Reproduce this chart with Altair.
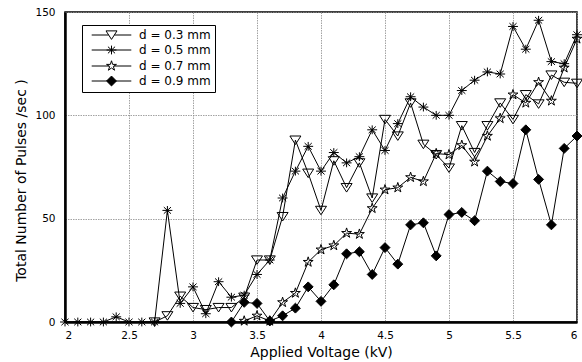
import altair as alt
import pandas as pd

# Applied voltage steps (kV)
voltage = [2.0, 2.1, 2.2, 2.3, 2.4, 2.5, 2.6, 2.7, 2.8, 2.9,
           3.0, 3.1, 3.2, 3.3, 3.4, 3.5, 3.6, 3.7, 3.8, 3.9,
           4.0, 4.1, 4.2, 4.3, 4.4, 4.5, 4.6, 4.7, 4.8, 4.9,
           5.0, 5.1, 5.2, 5.3, 5.4, 5.5, 5.6, 5.7, 5.8, 5.9, 6.0]

# Total pulses per second for each gap distance (None = not measured)
d03 = [None, None, None, None, None, None, None, 0, 3, 12.5,
       7, 6, 7, 7, 12, 30, 30, 51, 88, 72,
       54, 78, 65, 77, 60, 98, 90, 106, 86, 81,
       74.5, 95, 82, 95, 106, 98, 110, 105.5, 119.5, 116, 115.5]
d05 = [0, 0, 0, 0, 2.5, 0, 0, 0, 54, 9,
       17, 4, 19.5, 12, 13, 23, 30, 60, 73, 85,
       73, 82, 77, 80, 93, 83, 96, 109, 104, 100,
       100, 112, 117, 121, 120, 143, 132, 146, 126, 125, 139]
d07 = [None, None, None, None, None, None, None, None, None, None,
       None, None, None, None, 0.5, 3, 0.5, 9.5, 14, 29,
       35, 37, 43, 42.5, 55, 64, 65, 70, 68, 81.5,
       81, 85.5, 77.5, 90, 98.5, 110, 106, 116, 107, 123, 137]
d09 = [None, None, None, None, None, None, None, None, None, None,
       None, None, None, 0, 9.5, 9, 0.5, 3, 6.7, 17,
       10, 18, 33, 34, 23, 36, 28, 47, 48, 32,
       52, 53, 49, 73, 68, 67, 93, 69, 47, 84, 90]

series_names = ["d = 0.3 mm", "d = 0.5 mm", "d = 0.7 mm", "d = 0.9 mm"]
x_ticks = [2, 2.5, 3, 3.5, 4, 4.5, 5, 5.5, 6]
y_ticks = [0, 50, 100, 150]

rows = []
for name, values in zip(series_names, [d03, d05, d07, d09]):
    for v, c in zip(voltage, values):
        if c is not None:
            rows.append({"voltage": v, "count": c, "series": name})
df = pd.DataFrame(rows)

# Marker outlines in the unit square
TRI = "M-1,-0.75L1,-0.75L0,0.8Z"
AST = ("M-0.9,0L0.9,0M0,-0.8L0,0.8"
       "M-0.65,-0.6L0.65,0.6M-0.65,0.6L0.65,-0.6")
STAR = ("M0,-0.95L0.21,-0.29L0.9,-0.29L0.34,0.11L0.56,0.77L0,0.36"
        "L-0.56,0.77L-0.34,0.11L-0.9,-0.29L-0.21,-0.29Z")
DIA = "M0,-0.9L0.9,0L0,0.9L-0.9,0Z"

# Legend keys: a line segment with the marker in the middle
LEG_TRI = "M-3.6,0L-0.52,0M0.52,0L3.6,0" + TRI
LEG_AST = "M-3.6,0L3.6,0" + AST
LEG_STAR = "M-3.6,0L-0.4,0M0.4,0L3.6,0" + STAR
LEG_DIA = "M-3.6,0L3.6,0" + DIA

fills = ["transparent", "transparent", "transparent", "black"]
strokes = ["black", "black", "black", "black"]
font = "DejaVu Sans"

x_enc = alt.X("voltage:Q",
              scale=alt.Scale(domain=[2, 6], nice=False),
              axis=alt.Axis(values=x_ticks, format="~g",
                            title="Applied Voltage (kV)"))
y_enc = alt.Y("count:Q",
              scale=alt.Scale(domain=[0, 150], nice=False),
              axis=alt.Axis(values=y_ticks,
                            title="Total Number of Pulses /sec )",
                            titleX=-44, titleY=168,
                            titleBaseline="middle"))

lines = alt.Chart(df).mark_line(color="black", strokeWidth=1).encode(
    x=x_enc, y=y_enc,
    detail="series:N",
    order="voltage:Q",
)

points = alt.Chart(df).mark_point(
    stroke="black", strokeWidth=1, size=121, opacity=1
).encode(
    x=x_enc, y=y_enc,
    shape=alt.Shape("series:N", legend=None,
                    scale=alt.Scale(domain=series_names,
                                    range=[TRI, AST, STAR, DIA])),
    fill=alt.Fill("series:N", legend=None,
                  scale=alt.Scale(domain=series_names, range=fills)),
)

legend = alt.Legend(
    title=None, orient="none", legendX=17, legendY=13,
    fillColor="white", strokeColor="black", padding=4,
    symbolSize=121, symbolOffset=19.5, labelOffset=21.5,
    symbolStrokeColor="black", symbolStrokeWidth=1, symbolOpacity=1,
    rowPadding=1, labelFont=font, labelFontSize=12, labelColor="black",
    labelBaseline="middle",
)

key = alt.Chart(df).transform_filter("false").mark_point(
    strokeWidth=1, size=121, opacity=1
).encode(
    x=x_enc, y=y_enc,
    shape=alt.Shape("series:N", legend=legend,
                    scale=alt.Scale(domain=series_names,
                                    range=[LEG_TRI, LEG_AST, LEG_STAR, LEG_DIA])),
    fill=alt.Fill("series:N", legend=legend,
                  scale=alt.Scale(domain=series_names, range=fills)),
    stroke=alt.Stroke("series:N", legend=legend,
                      scale=alt.Scale(domain=series_names, range=strokes)),
)

chart = alt.layer(lines, points, key).resolve_scale(
    shape="independent", fill="independent", stroke="independent"
).properties(
    width=512, height=310,
    padding={"left": 65, "top": 12, "right": 5, "bottom": 40},
    autosize=alt.AutoSizeParams(type="none"),
    background="white",
).configure_view(
    stroke="black", strokeWidth=1.5
).configure_axis(
    domainColor="black", domainWidth=2.5,
    ticks=False,
    gridColor="#8c8c8c", gridWidth=0.8, gridDash=[1.5, 1],
    labelFont=font, labelFontSize=10.5, labelColor="black",
    titleFont=font, titleFontSize=14, titleFontWeight="normal",
    titleColor="black",
).configure_axisX(
    labelPadding=8, titlePadding=5,
).configure_axisY(
    labelPadding=10,
)

chart.save("out.html", embed_options={"renderer": "svg", "actions": False})
